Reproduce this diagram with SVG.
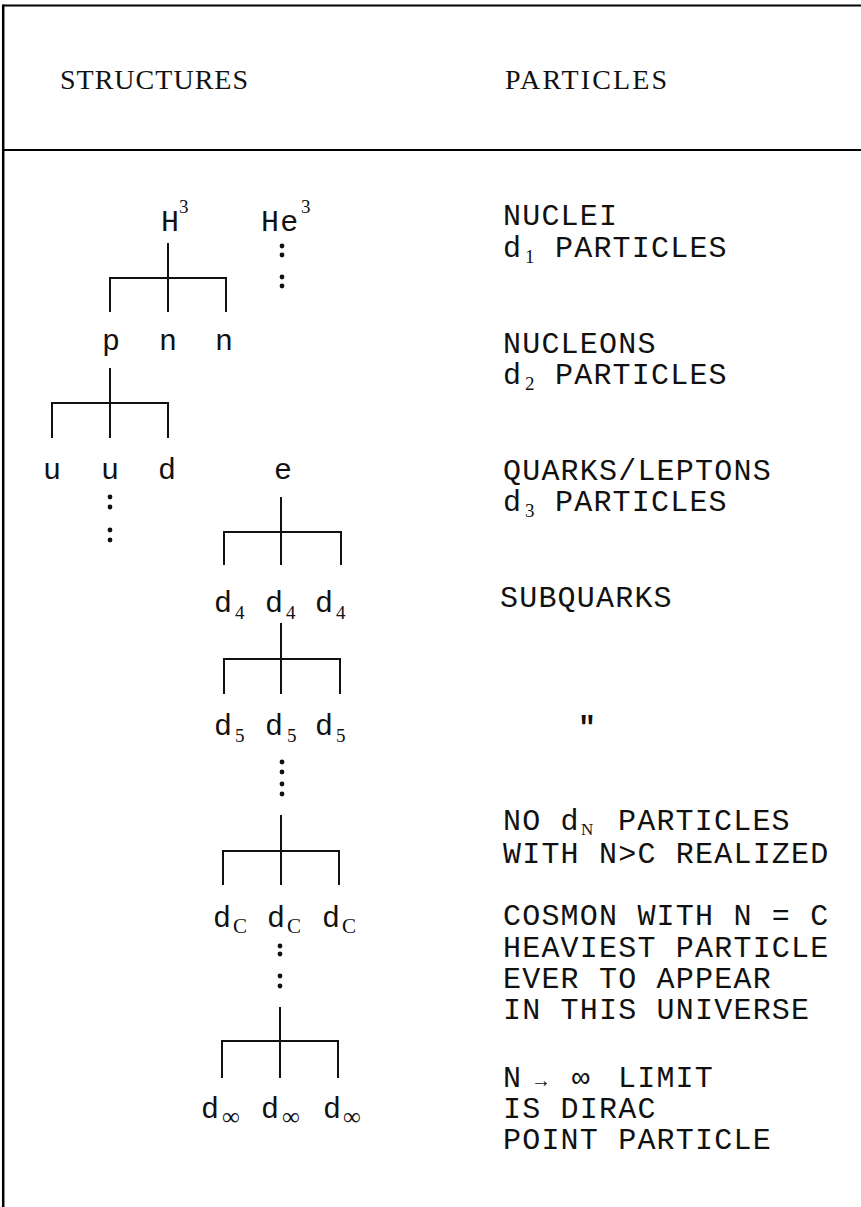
<svg xmlns="http://www.w3.org/2000/svg" width="861" height="1207" viewBox="0 0 861 1207">
<style>
.frame{stroke:#000;fill:none}
.conn{stroke:#111;stroke-width:2;fill:none}
.dot{fill:#111}
.tw{font-family:"Liberation Mono",monospace;font-size:30px;fill:#111;letter-spacing:1.2px}
.sub{font-family:"Liberation Serif",serif;font-size:19px;letter-spacing:0}
.hd{font-family:"Liberation Serif",serif;font-size:28px;fill:#111}
</style>
<rect x="0" y="0" width="861" height="1207" fill="#fff"/>
<g id="frame">
<path class="frame" stroke-width="2" d="M3,5.5 H861"/>
<path class="frame" stroke-width="2.5" d="M3.2,4.5 V1207"/>
<path class="frame" stroke-width="2" d="M3,150 H861"/>
</g>
<g id="headers">
<text class="hd" x="60" y="89" textLength="188" lengthAdjust="spacing">STRUCTURES</text>
<text class="hd" x="505" y="89" textLength="162" lengthAdjust="spacing">PARTICLES</text>
</g>
<g id="connectors">
<path class="conn" d="M168,243 V312 M110,312 V278 H226 V312"/>
<path class="conn" d="M110,368 V438 M52,438 V403 H168 V438"/>
<path class="conn" d="M281,497 V565 M224,565 V532 H341 V565"/>
<path class="conn" d="M281,623 V694 M224,694 V659 H340 V694"/>
<path class="conn" d="M281,815 V885 M223,885 V851 H339 V885"/>
<path class="conn" d="M280,1007 V1078 M222,1078 V1041 H338 V1078"/>
<g class="dot">
<circle cx="282" cy="246" r="2.4"/><circle cx="282" cy="255" r="2.4"/><circle cx="282" cy="277" r="2.4"/><circle cx="282" cy="286" r="2.4"/>
<circle cx="110" cy="497" r="2.4"/><circle cx="110" cy="507" r="2.4"/><circle cx="110" cy="530" r="2.4"/><circle cx="110" cy="540" r="2.4"/>
<circle cx="282" cy="762" r="2.4"/><circle cx="282" cy="772" r="2.4"/><circle cx="282" cy="784" r="2.4"/><circle cx="282" cy="794" r="2.4"/>
<circle cx="280" cy="946" r="2.4"/><circle cx="280" cy="954" r="2.4"/><circle cx="280" cy="976" r="2.4"/><circle cx="280" cy="986" r="2.4"/>
</g>
</g>
<g id="node-H3"><text class="tw" x="161" y="231">H<tspan class="sub" x="179" y="213">3</tspan></text></g>
<g id="node-He3"><text class="tw" x="261" y="231">He<tspan class="sub" x="301" y="213">3</tspan></text></g>
<g id="node-p"><text class="tw" x="102" y="350">p</text></g>
<g id="node-n1"><text class="tw" x="159" y="350">n</text></g>
<g id="node-n2"><text class="tw" x="215" y="350">n</text></g>
<g id="node-u1"><text class="tw" x="43" y="479">u</text></g>
<g id="node-u2"><text class="tw" x="101" y="479">u</text></g>
<g id="node-d"><text class="tw" x="158" y="479">d</text></g>
<g id="node-e"><text class="tw" x="274" y="479">e</text></g>
<g id="node-d4">
<text class="tw" x="214" y="612">d<tspan class="sub" x="235" y="619">4</tspan></text>
<text class="tw" x="265" y="612">d<tspan class="sub" x="286" y="619">4</tspan></text>
<text class="tw" x="315" y="612">d<tspan class="sub" x="336" y="619">4</tspan></text>
</g>
<g id="node-d5">
<text class="tw" x="214" y="735">d<tspan class="sub" x="235" y="742">5</tspan></text>
<text class="tw" x="265" y="735">d<tspan class="sub" x="287" y="742">5</tspan></text>
<text class="tw" x="315" y="735">d<tspan class="sub" x="336" y="742">5</tspan></text>
</g>
<g id="node-dC">
<text class="tw" x="213" y="927">d<tspan class="sub" style="font-size:21px" x="233" y="933">C</tspan></text>
<text class="tw" x="267" y="927">d<tspan class="sub" style="font-size:21px" x="287" y="933">C</tspan></text>
<text class="tw" x="322" y="927">d<tspan class="sub" style="font-size:21px" x="342" y="933">C</tspan></text>
</g>
<g id="node-dinf">
<text class="tw" x="201" y="1118">d<tspan class="sub" style="font-size:25px" x="222" y="1125">∞</tspan></text>
<text class="tw" x="261" y="1118">d<tspan class="sub" style="font-size:25px" x="282" y="1125">∞</tspan></text>
<text class="tw" x="323" y="1118">d<tspan class="sub" style="font-size:25px" x="343" y="1125">∞</tspan></text>
</g>
<g id="particles">
<text class="tw" x="503" y="225">NUCLEI</text>
<text class="tw" x="503" y="257">d<tspan class="sub" x="525" y="263">1</tspan><tspan x="555" y="257">PARTICLES</tspan></text>
<text class="tw" x="503" y="353">NUCLEONS</text>
<text class="tw" x="503" y="384">d<tspan class="sub" x="525" y="390">2</tspan><tspan x="555" y="384">PARTICLES</tspan></text>
<text class="tw" x="503" y="480">QUARKS/LEPTONS</text>
<text class="tw" x="503" y="511">d<tspan class="sub" x="525" y="517">3</tspan><tspan x="555" y="511">PARTICLES</tspan></text>
<text class="tw" x="500" y="607">SUBQUARKS</text>
<text class="tw" x="578" y="737" style="font-weight:bold">"</text>
<text class="tw" x="503" y="830">NO d<tspan class="sub" style="font-size:17px" x="581" y="835">N</tspan><tspan x="618" y="830">PARTICLES</tspan></text>
<text class="tw" x="503" y="863">WITH N&gt;C REALIZED</text>
<text class="tw" x="503" y="925">COSMON WITH N = C</text>
<text class="tw" x="503" y="957">HEAVIEST PARTICLE</text>
<text class="tw" x="503" y="988">EVER TO APPEAR</text>
<text class="tw" x="503" y="1019">IN THIS UNIVERSE</text>
<text class="tw" x="503" y="1087">N<tspan x="535" style="font-size:20px">→</tspan><tspan x="572">∞</tspan><tspan x="618">LIMIT</tspan></text>
<text class="tw" x="503" y="1118">IS DIRAC</text>
<text class="tw" x="503" y="1149">POINT PARTICLE</text>
</g>
</svg>
